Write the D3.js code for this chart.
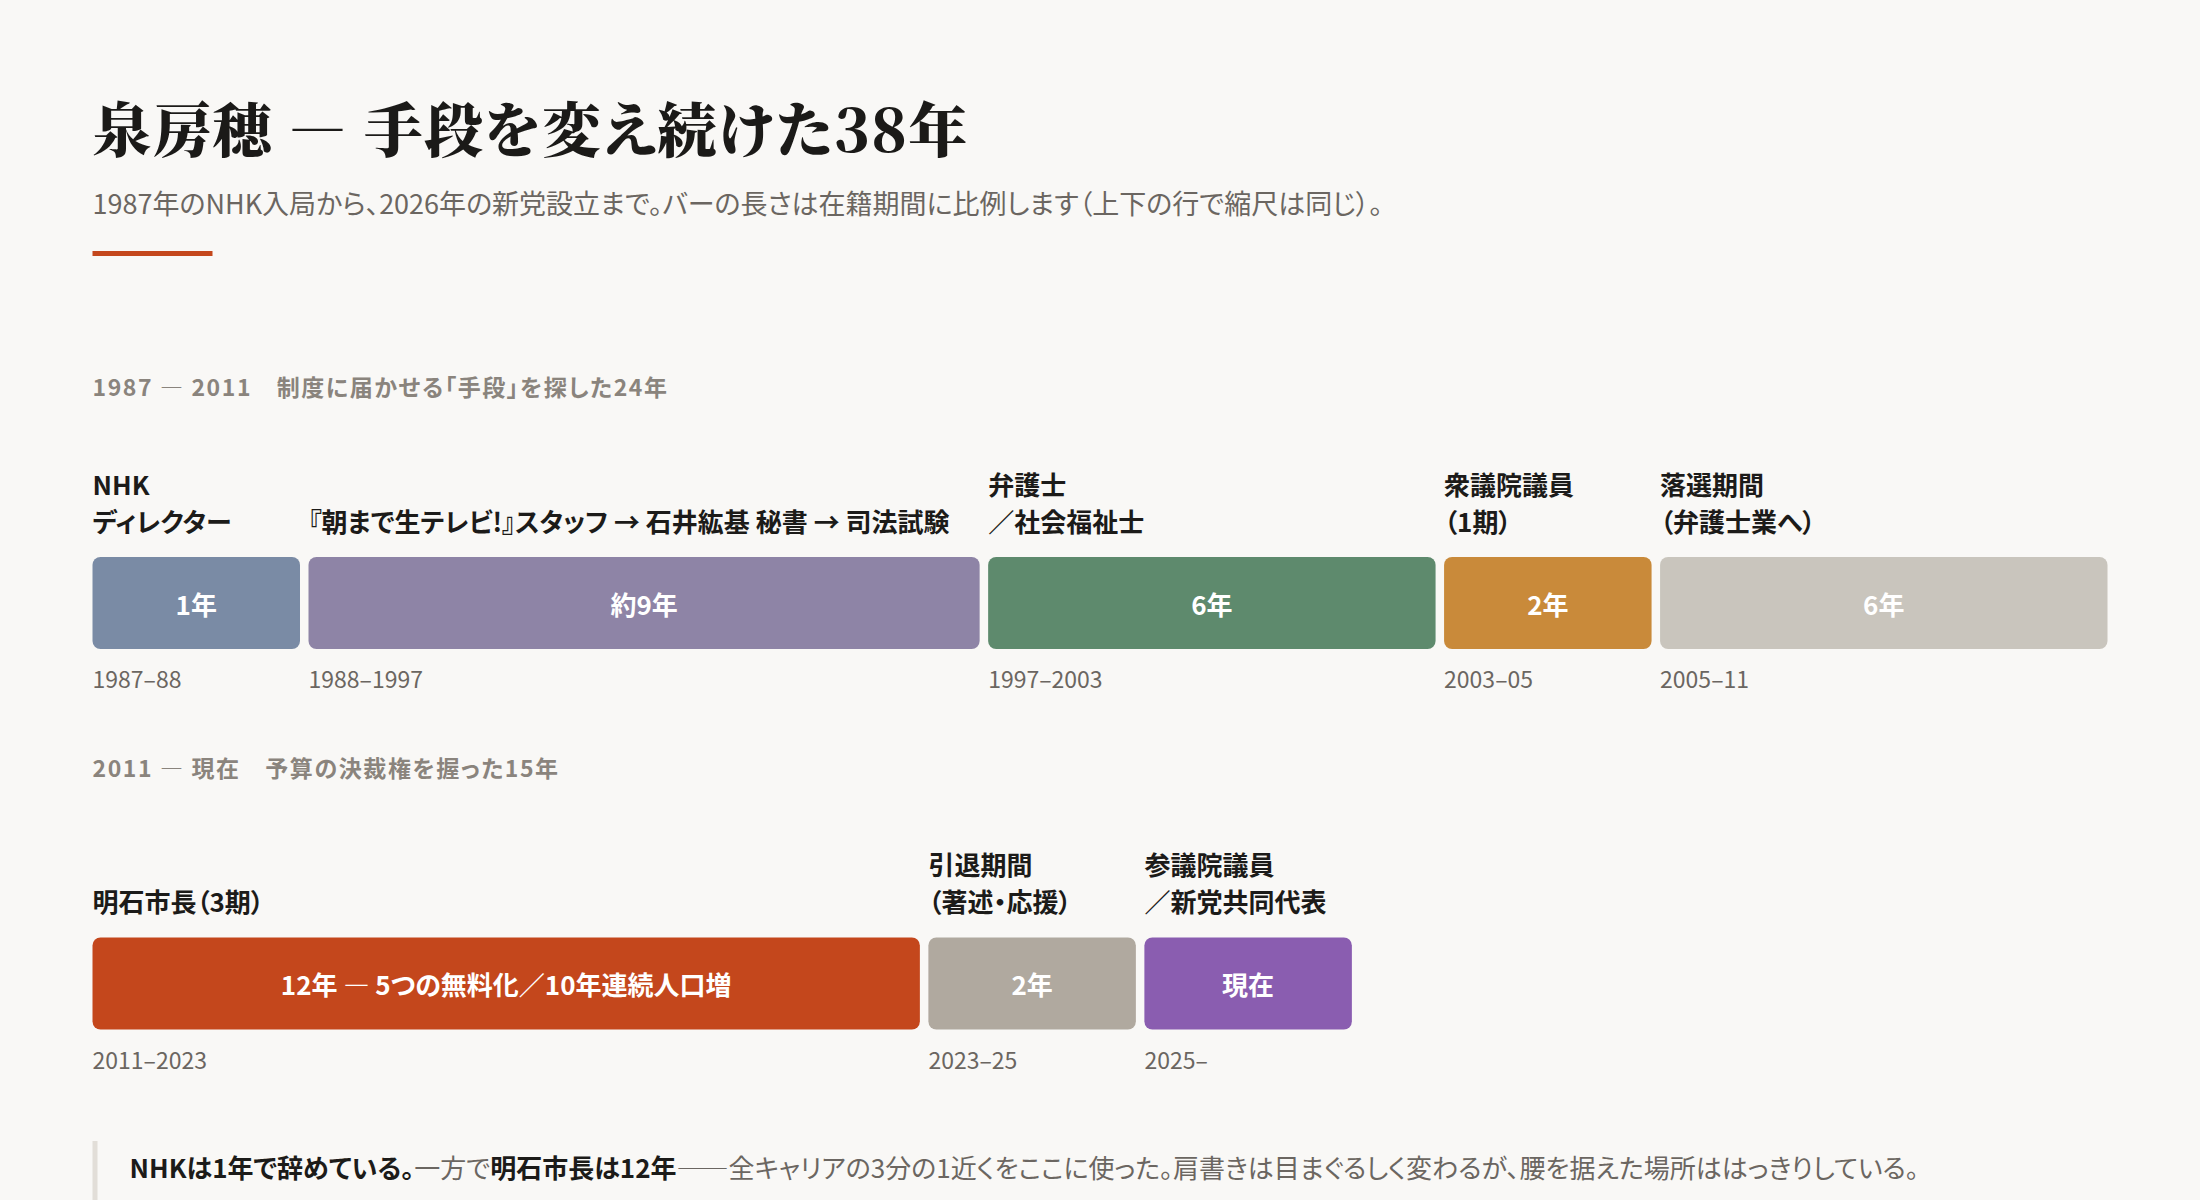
<!DOCTYPE html>
<html lang="ja">
<head>
<meta charset="utf-8">
<script src="https://cdn.jsdelivr.net/npm/d3@7"></script>
<style>
  body { margin: 0; background: #f9f8f6; }
  svg { display: block; font-family: "Noto Sans CJK JP", "Noto Sans", sans-serif; font-feature-settings: "palt"; }
</style>
</head>
<body>
<div id="chart"></div>
<script>
// career timeline data
const row1Heads = [["NHK", "ディレクター"], ["『朝まで生テレビ!』スタッフ → 石井紘基 秘書 → 司法試験"], ["弁護士", "／社会福祉士"], ["衆議院議員", "（1期）"], ["落選期間", "（弁護士業へ）"]];
const row1Years = [1, 9, 6, 2, 6];
const row1Labels = ["1年", "約9年", "6年", "2年", "6年"];
const row1Periods = ["1987–88", "1988–1997", "1997–2003", "2003–05", "2005–11"];
const row1Colors = ["#7a8ba5", "#8e84a6", "#5e8a6d", "#c98a3a", "#c9c5bd"];

const row2Heads = [["明石市長（3期）"], ["引退期間", "（著述・応援）"], ["参議院議員", "／新党共同代表"]];
const row2Years = [12, 2, 1];
const row2Labels = ["12年 — 5つの無料化／10年連続人口増", "2年", "現在"];
const row2Periods = ["2011–2023", "2023–25", "2025–"];
const row2Colors = ["#c4471c", "#b0a99f", "#8a5db0"];

const sectionTitles = ["1987 — 2011　制度に届かせる「手段」を探した24年", "2011 — 現在　予算の決裁権を握った15年"];

const width = 2200;
const height = 1200;
const left = 92.5;
const fullWidth = 2015;
const gap = 8.5;
const minBar = 207.5;

const svg = d3.select("#chart").append("svg")
    .attr("width", width)
    .attr("height", height);

svg.append("rect").attr("width", width).attr("height", height).attr("fill", "#f9f8f6");

// title block
svg.append("text")
    .attr("x", left).attr("y", 126)
    .attr("dominant-baseline", "central")
    .style("font-family", "'Noto Serif CJK JP', 'Noto Serif JP', 'Noto Sans CJK JP', serif")
    .style("font-size", "59px")
    .style("font-weight", "900")
    .style("letter-spacing", "1px")
    .attr("fill", "#1b1a18")
    .text("泉房穂 — 手段を変え続けた38年");

svg.append("text")
    .attr("x", left).attr("y", 202)
    .attr("dominant-baseline", "central")
    .style("font-size", "27px")
    .attr("fill", "#6b6661")
    .text("1987年のNHK入局から、2026年の新党設立まで。バーの長さは在籍期間に比例します（上下の行で縮尺は同じ）。");

svg.append("rect")
    .attr("x", left).attr("y", 251)
    .attr("width", 120).attr("height", 5)
    .attr("fill", "#c4471c");

// one year scale shared by both rows
const totalYears = d3.sum(row1Years);
const yearScale = d3.scaleLinear().domain([0, totalYears]).range([0, fullWidth]);

// flex-like widths: bars never shrink below minBar, the rest shares the free space
function barWidths(years) {
  const rowWidth = yearScale(d3.sum(years));
  const avail = rowWidth - gap * (years.length - 1);
  const clamped = years.map(() => false);
  let changed = true;
  let scale;
  while (changed) {
    changed = false;
    const freeYears = d3.sum(years.filter((y, i) => !clamped[i]));
    const nClamped = clamped.filter(c => c).length;
    scale = d3.scaleLinear().domain([0, freeYears]).range([0, avail - nClamped * minBar]);
    years.forEach((y, i) => {
      if (!clamped[i] && scale(y) < minBar) { clamped[i] = true; changed = true; }
    });
  }
  return years.map((y, i) => clamped[i] ? minBar : scale(y));
}

function drawRow(top, heading, heads, years, labels, periods, colors) {
  const g = svg.append("g").attr("transform", "translate(" + left + "," + top + ")");

  g.append("text")
      .attr("x", 0).attr("y", -1)
      .attr("dominant-baseline", "central")
      .style("font-size", "23px")
      .style("font-weight", "bold")
      .style("letter-spacing", "1.6px")
      .attr("fill", "#8a847d")
      .text(heading);

  const widths = barWidths(years);
  const xs = [];
  widths.reduce((acc, w) => { xs.push(acc); return acc + w + gap; }, 0);

  const items = g.selectAll(".item")
      .data(years.map((y, i) => ({ years: y, head: heads[i], label: labels[i], period: periods[i], color: colors[i], x: xs[i], w: widths[i] })))
      .enter().append("g")
      .attr("class", "item")
      .attr("transform", d => "translate(" + d.x + ",0)");

  items.append("rect")
      .attr("y", 170)
      .attr("width", d => d.w)
      .attr("height", 92)
      .attr("rx", 8)
      .attr("fill", d => d.color);

  items.append("text")
      .attr("x", d => d.w / 2)
      .attr("y", 216)
      .attr("text-anchor", "middle")
      .attr("dominant-baseline", "central")
      .style("font-size", "26px")
      .style("font-weight", "bold")
      .attr("fill", "#ffffff")
      .text(d => d.label);

  // heading lines sit on the bar, one-liners use the lower line
  items.each(function(d) {
    const lines = d.head;
    const base = lines.length === 1 ? 133 : 96;
    lines.forEach((line, k) => {
      d3.select(this).append("text")
          .attr("x", 0)
          .attr("y", base + k * 37)
          .attr("dominant-baseline", "central")
          .style("font-size", "26px")
          .style("font-weight", "bold")
          .attr("fill", "#1c1b19")
          .text(line);
    });
  });

  items.append("text")
      .attr("x", 0)
      .attr("y", 291)
      .attr("dominant-baseline", "central")
      .style("font-size", "23px")
      .attr("fill", "#6b6661")
      .text(d => d.period);
}

drawRow(387, sectionTitles[0], row1Heads, row1Years, row1Labels, row1Periods, row1Colors);
drawRow(767.5, sectionTitles[1], row2Heads, row2Years, row2Labels, row2Periods, row2Colors);

// closing note
svg.append("rect")
    .attr("x", left).attr("y", 1141)
    .attr("width", 5).attr("height", 70)
    .attr("fill", "#e2ded8");

const note = svg.append("text")
    .attr("x", 129.5).attr("y", 1166)
    .attr("dominant-baseline", "central")
    .style("font-size", "26px")
    .attr("fill", "#6b6661");
note.append("tspan").style("font-weight", "bold").attr("fill", "#1c1b19").text("NHKは1年で辞めている。");
note.append("tspan").text("一方で");
note.append("tspan").style("font-weight", "bold").attr("fill", "#1c1b19").text("明石市長は12年");
note.append("tspan").text("——全キャリアの3分の1近くをここに使った。肩書きは目まぐるしく変わるが、腰を据えた場所ははっきりしている。");
</script>
</body>
</html>
